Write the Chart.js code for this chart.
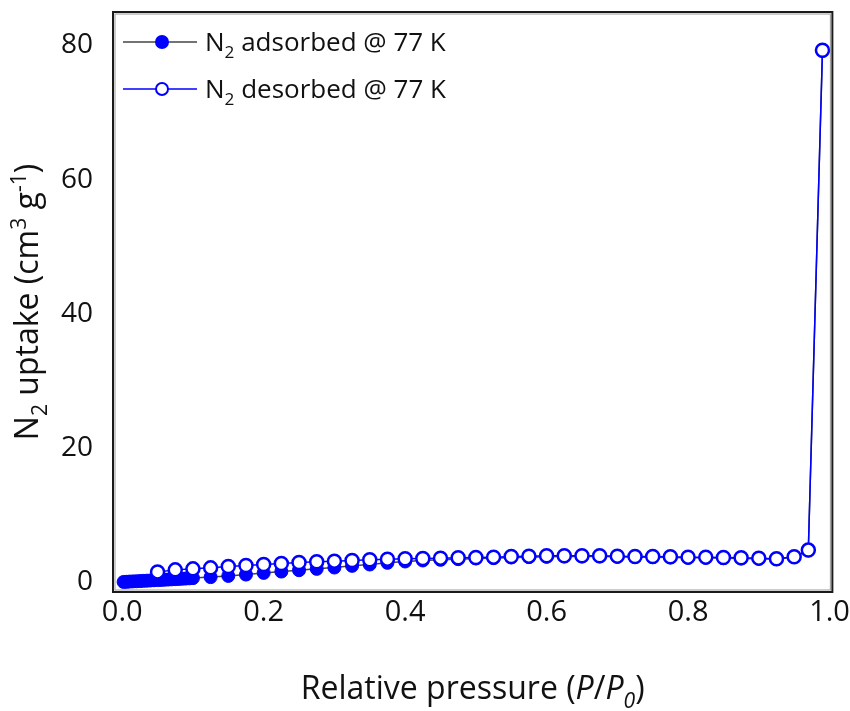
<!DOCTYPE html>
<html>
<head>
<meta charset="utf-8">
<script src="https://cdn.jsdelivr.net/npm/chart.js@4.4.1/dist/chart.umd.min.js"></script>
<style>
  html, body { margin: 0; padding: 0; background: #fff; }
  canvas { display: block; }
</style>
</head>
<body>
<canvas id="iso" width="850" height="711"></canvas>
<script>
// ====== DATA ======
const ADS_P = [0.002, 0.006, 0.01, 0.015, 0.02, 0.025, 0.03, 0.035, 0.04, 0.045, 0.05,
  0.055, 0.06, 0.065, 0.07, 0.075, 0.08, 0.085, 0.09, 0.095, 0.1,
  0.125, 0.15, 0.175, 0.2, 0.225, 0.25, 0.275, 0.3, 0.325, 0.35, 0.375, 0.4,
  0.425, 0.45, 0.475, 0.5, 0.525, 0.55, 0.575, 0.6, 0.625, 0.65, 0.675, 0.7,
  0.725, 0.75, 0.775, 0.8, 0.825, 0.85, 0.875, 0.9, 0.925, 0.95, 0.97, 0.99];
const ADS_N = [0.0, 0.02, 0.05, 0.08, 0.1, 0.13, 0.16, 0.19, 0.22, 0.25, 0.28,
  0.3, 0.33, 0.36, 0.39, 0.42, 0.45, 0.48, 0.51, 0.54, 0.57,
  0.72, 0.9, 1.1, 1.35, 1.55, 1.75, 1.95, 2.15, 2.4, 2.6, 2.85, 3.05,
  3.2, 3.3, 3.4, 3.5, 3.55, 3.65, 3.7, 3.75, 3.8, 3.8, 3.8, 3.75,
  3.7, 3.7, 3.65, 3.6, 3.6, 3.55, 3.5, 3.45, 3.4, 3.7, 4.7, 79.2];

const DES_P = [0.05, 0.075, 0.1, 0.125, 0.15, 0.175, 0.2, 0.225, 0.25, 0.275,
  0.3, 0.325, 0.35, 0.375, 0.4, 0.425, 0.45, 0.475, 0.5, 0.525,
  0.55, 0.575, 0.6, 0.625, 0.65, 0.675, 0.7, 0.725, 0.75, 0.775,
  0.8, 0.825, 0.85, 0.875, 0.9, 0.925, 0.95, 0.97, 0.99];
const DES_N = [1.5, 1.8, 1.95, 2.1, 2.3, 2.45, 2.6, 2.75, 2.9, 3.0,
  3.1, 3.2, 3.3, 3.4, 3.45, 3.5, 3.55, 3.6, 3.65, 3.7,
  3.8, 3.85, 3.9, 3.9, 3.9, 3.9, 3.85, 3.8, 3.8, 3.75,
  3.7, 3.7, 3.65, 3.6, 3.55, 3.45, 3.75, 4.75, 79.3];

const X_TICKS = [0, 0.2, 0.4, 0.6, 0.8, 1.0];
const Y_TICKS = [0, 20, 40, 60, 80];

// ====== STYLE ======
const FONT = '"Open Sans", "Noto Sans", sans-serif';
const BLUE = '#0000ff';
const INK  = '#111';

// ====== RICH TEXT (sub / sup / italic) ======
function richWidth(ctx, parts, size) {
  let w = 0;
  for (const p of parts) {
    const fs = p.s ? size * 0.66 : size;
    ctx.font = `${p.i ? 'italic ' : ''}${fs}px ${FONT}`;
    w += ctx.measureText(p.t).width;
  }
  return w;
}
function drawRich(ctx, parts, x, y, size, align) {
  const w = richWidth(ctx, parts, size);
  let cx = align === 'center' ? x - w / 2 : x;
  ctx.textBaseline = 'alphabetic';
  ctx.textAlign = 'left';
  for (const p of parts) {
    const fs = p.s ? size * 0.66 : size;
    const dy = p.s === 'sub' ? size * 0.28 : p.s === 'sup' ? -size * 0.38 : 0;
    ctx.font = `${p.i ? 'italic ' : ''}${fs}px ${FONT}`;
    ctx.fillText(p.t, cx, y + dy);
    cx += ctx.measureText(p.t).width;
  }
}

const decor = {
  id: 'decor',
  beforeDraw(chart) {
    const c = chart.ctx;
    c.save();
    c.fillStyle = '#fff';
    c.fillRect(0, 0, chart.width, chart.height);
    c.restore();
  },
  afterDraw(chart) {
    const c = chart.ctx, a = chart.chartArea;
    c.save();
    // frame
    c.strokeStyle = '#1a1a1a';
    c.lineWidth = 2;
    c.strokeRect(a.left, a.top, a.right - a.left, a.bottom - a.top);
    c.strokeStyle = '#999';
    c.lineWidth = 1;
    c.strokeRect(a.left + 2, a.top + 2, a.right - a.left - 4, a.bottom - a.top - 4);

    c.fillStyle = INK;
    // x title
    drawRich(c, [
      { t: 'Relative pressure (' }, { t: 'P', i: true }, { t: '/' },
      { t: 'P', i: true }, { t: '0', i: true, s: 'sub' }, { t: ')' }
    ], (a.left + a.right) / 2, 699, 32, 'center');
    // y title
    c.save();
    c.translate(38, (a.top + a.bottom) / 2);
    c.rotate(-Math.PI / 2);
    drawRich(c, [
      { t: 'N' }, { t: '2', s: 'sub' }, { t: ' uptake (cm' }, { t: '3', s: 'sup' },
      { t: ' g' }, { t: '-1', s: 'sup' }, { t: ')' }
    ], 0, 0, 32, 'center');
    c.restore();

    // legend
    const items = [
      { y: 42, line: '#444', fill: BLUE, label: 'adsorbed @ 77 K' },
      { y: 89, line: BLUE, fill: '#fff', label: 'desorbed @ 77 K' }
    ];
    for (const it of items) {
      c.strokeStyle = it.line;
      c.lineWidth = 1.5;
      c.beginPath();
      c.moveTo(a.left + 10, it.y);
      c.lineTo(a.left + 84, it.y);
      c.stroke();
      c.beginPath();
      c.arc(a.left + 49, it.y, 6, 0, Math.PI * 2);
      c.fillStyle = it.fill;
      c.fill();
      c.strokeStyle = BLUE;
      c.lineWidth = 2;
      c.stroke();
      c.fillStyle = INK;
      drawRich(c, [{ t: 'N' }, { t: '2', s: 'sub' }, { t: ' ' + it.label }],
        a.left + 92, it.y + 9, 26, 'left');
    }
    c.restore();
  }
};

const toPts = (xs, ys) => xs.map((x, i) => ({ x, y: ys[i] }));

new Chart(document.getElementById('iso'), {
  type: 'scatter',
  data: {
    datasets: [
      {
        label: 'N2 desorbed @ 77 K',
        data: toPts(DES_P, DES_N),
        showLine: true,
        borderColor: BLUE,
        borderWidth: 1.5,
        pointRadius: 6.5,
        pointBorderWidth: 2.5,
        pointBackgroundColor: '#fff',
        pointBorderColor: BLUE
      },
      {
        label: 'N2 adsorbed @ 77 K',
        data: toPts(ADS_P, ADS_N),
        showLine: true,
        borderColor: '#444',
        borderWidth: 1.5,
        pointRadius: 6.5,
        pointBorderWidth: 1,
        pointBackgroundColor: BLUE,
        pointBorderColor: BLUE
      }
    ]
  },
  options: {
    responsive: false,
    animation: false,
    devicePixelRatio: 1,
    layout: { padding: { top: 12, right: 17, left: 0, bottom: 0 } },
    plugins: { legend: { display: false }, tooltip: { enabled: false } },
    scales: {
      x: {
        type: 'linear',
        min: -0.013,
        max: 1.004,
        afterBuildTicks: s => { s.ticks = X_TICKS.map(v => ({ value: v })); },
        afterFit: s => { s.height = 119; },
        grid: { display: false, drawTicks: true, tickLength: 3 },
        border: { display: false },
        ticks: {
          padding: 0,
          color: INK,
          font: { family: FONT, size: 29 },
          maxRotation: 0,
          callback: v => v.toFixed(1)
        }
      },
      y: {
        min: -1.5,
        max: 85,
        afterBuildTicks: s => { s.ticks = Y_TICKS.map(v => ({ value: v })); },
        afterFit: s => { s.width = 113; },
        grid: { display: false, drawTicks: true, tickLength: 20 },
        border: { display: false },
        ticks: {
          padding: 0,
          color: INK,
          font: { family: FONT, size: 28, lineHeight: 0.8 },
          callback: v => String(v)
        }
      }
    }
  },
  plugins: [decor]
});
</script>
</body>
</html>
